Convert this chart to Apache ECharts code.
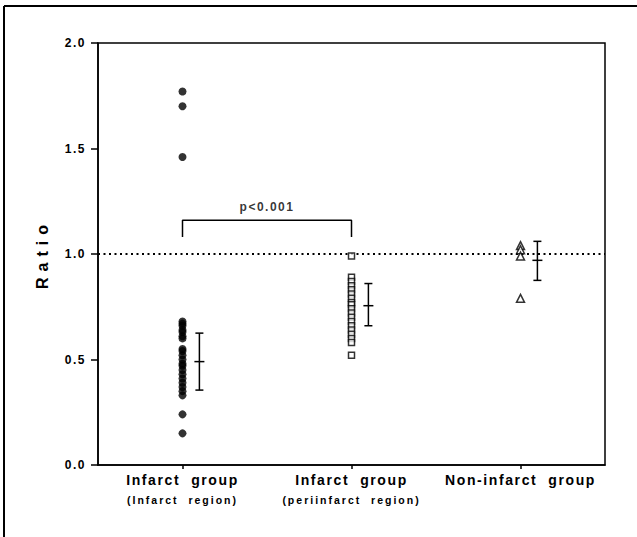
<!DOCTYPE html>
<html>
<head>
<meta charset="utf-8">
<script src="https://cdn.jsdelivr.net/npm/echarts@6/dist/echarts.min.js"></script>
<style>
  html, body { margin: 0; padding: 0; background: #fff; }
  #chart { width: 637px; height: 537px; }
  #chart text { white-space: pre; }
</style>
</head>
<body>
<div id="chart"></div>
<script>
// ---- data ----
const categories = ['Infarct  group', 'Infarct  group', 'Non-infarct  group'];
const subLabels = ['(Infarct  region)', '(periinfarct  region)', ''];
const groupX = [0.5, 1.5, 2.5];
const infarctRegion = [1.77, 1.70, 1.46, 0.68, 0.67, 0.66, 0.64, 0.63, 0.61, 0.60,
  0.55, 0.54, 0.52, 0.50, 0.48, 0.47, 0.45, 0.43, 0.41, 0.39, 0.37, 0.35, 0.33, 0.24, 0.15];
const periInfarctRegion = [0.99, 0.89, 0.87, 0.85, 0.83, 0.81, 0.79, 0.77, 0.76, 0.74,
  0.72, 0.70, 0.68, 0.66, 0.64, 0.62, 0.60, 0.58, 0.52];
const nonInfarct = [1.04, 1.02, 0.99, 0.79];
// error bars: [x, low, mean, high]
const errX = [0.6, 1.6, 2.6];
const errLow = [0.355, 0.66, 0.875];
const errMean = [0.49, 0.755, 0.97];
const errHigh = [0.625, 0.86, 1.06];
const refValue = 1.0;
const bracketX = [0.5, 1.5];
const bracketTop = 1.16;
const bracketBottom = 1.08;
const pLabel = 'p<0.001';
const pLabelPos = [1.0, 1.225];
const yMin = 0, yMax = 2, yStep = 0.5;

const FONT = 'Liberation Sans';

const chart = echarts.init(document.getElementById('chart'), null, { renderer: 'svg' });

const errData = errX.map((x, i) => [x, errLow[i], errMean[i], errHigh[i]]);

const option = {
  animation: false,
  backgroundColor: '#fff',
  grid: { left: 98, right: 32, top: 43, bottom: 72, show: true, borderColor: '#000', borderWidth: 1.5, backgroundColor: 'transparent' },
  graphic: [
    { type: 'line', shape: { x1: 4, y1: 6, x2: 4, y2: 537 }, style: { stroke: '#000', lineWidth: 2 } },
    { type: 'line', shape: { x1: 4, y1: 6, x2: 637, y2: 6 }, style: { stroke: '#000', lineWidth: 2 } }
  ],
  xAxis: [
    {
      type: 'category', data: categories, boundaryGap: true,
      axisLine: { show: true, lineStyle: { color: '#000', width: 1.5 } },
      axisTick: { show: true, alignWithLabel: true, length: 4, lineStyle: { color: '#000', width: 1.5 } },
      axisLabel: {
        interval: 0, margin: 5,
        formatter: (v, i) => subLabels[i] ? '{a|' + v + '}\n{b|' + subLabels[i] + '}' : '{a|' + v + '}',
        rich: {
          a: { fontFamily: FONT, fontWeight: 'bold', fontSize: 14, color: '#000', lineHeight: 20 },
          b: { fontFamily: FONT, fontWeight: 'bold', fontSize: 10.5, color: '#000', lineHeight: 20 }
        }
      },
      splitLine: { show: false }
    },
    { type: 'value', min: 0, max: 3, show: false }
  ],
  yAxis: {
    type: 'value', min: yMin, max: yMax, interval: yStep,
    name: 'Ratio', nameLocation: 'middle', nameRotate: 90, nameGap: 48,
    nameTextStyle: { fontFamily: FONT, fontWeight: 'bold', fontSize: 16, color: '#000' },
    axisLine: { show: true, lineStyle: { color: '#000', width: 1.5 } },
    axisTick: { show: true, length: 7, lineStyle: { color: '#000', width: 1.5 } },
    axisLabel: { margin: 12, formatter: v => v.toFixed(1), fontFamily: FONT, fontWeight: 'bold', fontSize: 12, color: '#000' },
    splitLine: { show: false }
  },
  series: [
    {
      type: 'line', xAxisIndex: 1, data: [[0, refValue], [3, refValue]], symbol: 'none', silent: true,
      lineStyle: { color: '#000', width: 2, type: [2, 3.5] }, z: 1
    },
    {
      type: 'line', xAxisIndex: 1, symbol: 'none', silent: true,
      data: [[bracketX[0], bracketBottom], [bracketX[0], bracketTop], [bracketX[1], bracketTop], [bracketX[1], bracketBottom]],
      lineStyle: { color: '#000', width: 1.5 }, z: 2
    },
    {
      type: 'scatter', xAxisIndex: 1, symbolSize: 0, data: [pLabelPos],
      label: { show: true, position: 'inside', formatter: pLabel, fontFamily: FONT, fontWeight: 'bold', fontSize: 12, color: '#000' }
    },
    {
      type: 'scatter', xAxisIndex: 1, symbol: 'circle', symbolSize: 8,
      itemStyle: { color: '#000' }, z: 3,
      data: infarctRegion.map(v => [groupX[0], v])
    },
    {
      type: 'scatter', xAxisIndex: 1, symbol: 'rect', symbolSize: 6,
      itemStyle: { color: '#fff', borderColor: '#000', borderWidth: 1.5 }, z: 3,
      data: periInfarctRegion.map(v => [groupX[1], v])
    },
    {
      type: 'scatter', xAxisIndex: 1, symbol: 'triangle', symbolSize: 8,
      itemStyle: { color: '#fff', borderColor: '#000', borderWidth: 1.5 }, z: 3,
      data: nonInfarct.map(v => [groupX[2], v])
    },
    {
      type: 'custom', xAxisIndex: 1, z: 4, data: errData,
      renderItem: (params, api) => {
        const x = api.value(0);
        const lo = api.coord([x, api.value(1)]);
        const mid = api.coord([x, api.value(2)]);
        const hi = api.coord([x, api.value(3)]);
        const st = { stroke: '#000', lineWidth: 1.5 };
        const cw = 4, mw = 5;
        return {
          type: 'group', children: [
            { type: 'line', shape: { x1: hi[0], y1: hi[1], x2: lo[0], y2: lo[1] }, style: st },
            { type: 'line', shape: { x1: hi[0] - cw, y1: hi[1], x2: hi[0] + cw, y2: hi[1] }, style: st },
            { type: 'line', shape: { x1: lo[0] - cw, y1: lo[1], x2: lo[0] + cw, y2: lo[1] }, style: st },
            { type: 'line', shape: { x1: mid[0] - mw, y1: mid[1], x2: mid[0] + mw, y2: mid[1] }, style: st }
          ]
        };
      }
    }
  ]
};

chart.setOption(option);

const spacing = {
  'Infarct  group': 1.6,
  'Non-infarct  group': 1.6,
  '(Infarct  region)': 2,
  '(periinfarct  region)': 2,
  'Ratio': 6,
  'p<0.001': 1.5,
  '0.0': 1.5, '0.5': 1.5, '1.0': 1.5, '1.5': 1.5, '2.0': 1.5
};
function applySpacing() {
  document.querySelectorAll('#chart text').forEach(t => {
    const s = spacing[t.textContent];
    if (s != null) t.style.letterSpacing = s + 'px';
  });
}
applySpacing();
chart.on('finished', applySpacing);
</script>
</body>
</html>
